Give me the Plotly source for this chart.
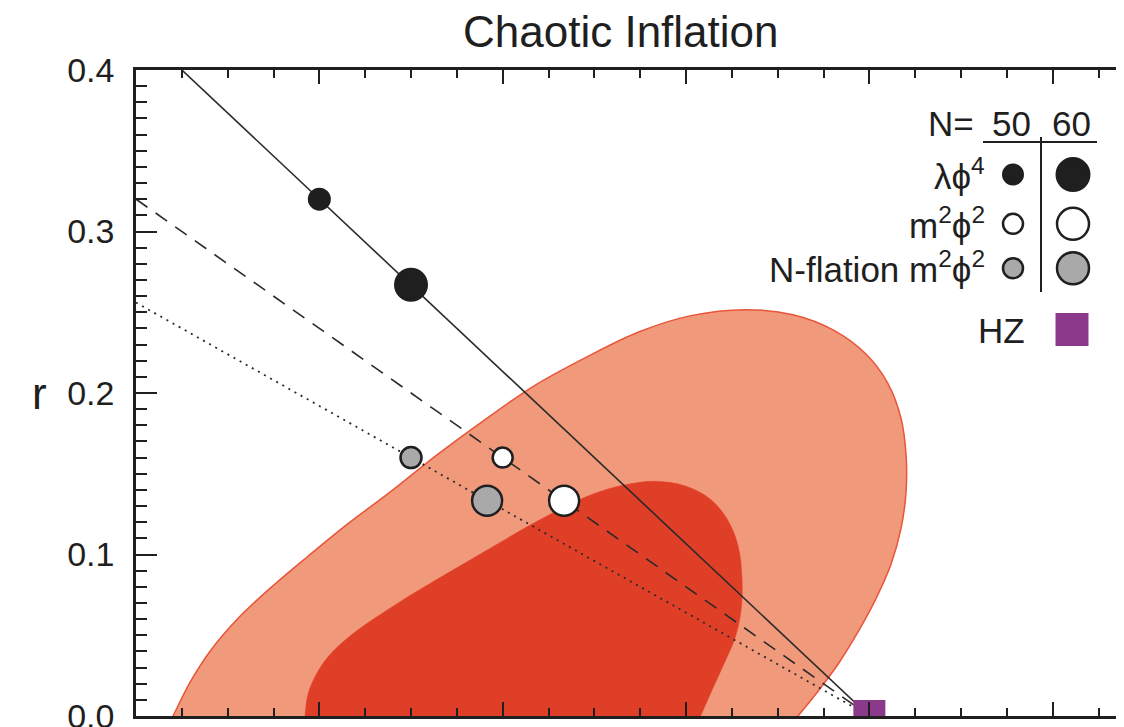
import plotly.graph_objects as go

# ---------------- data ----------------
# WMAP 95% region boundary (n_s, r); the ends run just below r = 0 and are clipped by the axis
outer_ns = [0.92305, 0.92404, 0.92589, 0.92818, 0.93135, 0.93494, 0.93876, 0.94313, 0.94771,
            0.95273, 0.95785, 0.96331, 0.96898, 0.97476, 0.98054, 0.98643, 0.99167, 0.99614,
            0.99963, 1.00203, 1.00345, 1.00400, 1.00400, 1.00345, 1.00236, 1.00072, 0.99887,
            0.99669, 0.99440, 0.99222, 0.99058]
outer_r = [-0.0110, 0.0000, 0.0208, 0.0409, 0.0617, 0.0806, 0.0989, 0.1191, 0.1386,
           0.1612, 0.1826, 0.2040, 0.2217, 0.2376, 0.2479, 0.2516, 0.2485, 0.2388,
           0.2241, 0.2058, 0.1844, 0.1618, 0.1386, 0.1160, 0.0940, 0.0727, 0.0531,
           0.0330, 0.0153, 0.0000, -0.0110]

# WMAP 68% region boundary (n_s, r)
inner_ns = [0.93833, 0.93844, 0.93876, 0.93964, 0.94094, 0.94269, 0.94476, 0.94716, 0.94967,
            0.95240, 0.95513, 0.95916, 0.96309, 0.96658, 0.96985, 0.97313, 0.97662, 0.98000,
            0.98262, 0.98447, 0.98567, 0.98611, 0.98600, 0.98534, 0.98414, 0.98283, 0.98153,
            0.98065]
inner_r = [-0.0110, 0.0000, 0.0134, 0.0256, 0.0366, 0.0464, 0.0556, 0.0647, 0.0739,
           0.0831, 0.0922, 0.1056, 0.1185, 0.1289, 0.1374, 0.1429, 0.1453, 0.1423,
           0.1344, 0.1221, 0.1056, 0.0849, 0.0653, 0.0482, 0.0324, 0.0159, -0.0006,
           -0.0110]

# model lines (n_s, r)
lam_line_ns = [0.92, 1.00]
lam_line_r = [0.4267, 0.0]
m2_line_ns = [0.92, 1.00]
m2_line_r = [0.320, 0.0]
nfl_line_ns = [0.92, 1.00]
nfl_line_r = [0.256, 0.0]

# model predictions for N = 50, 60
N_values = [50, 60]
lam_ns = [0.940, 0.950]
lam_r = [0.320, 0.267]
m2_ns = [0.960, 0.9667]
m2_r = [0.160, 0.1333]
nfl_ns = [0.950, 0.9583]
nfl_r = [0.160, 0.1333]

# Harrison-Zel'dovich point
hz_ns = [1.0]
hz_r = [0.0]

y_ticks = [0.0, 0.1, 0.2, 0.3, 0.4]
y_tick_labels = ["0.0", "0.1", "0.2", "0.3", "0.4"]

# ---------------- style ----------------
FONT = "Liberation Sans, Arial, sans-serif"
INK = "#1f1f1f"
OUTER_FILL = "#F1997B"
OUTER_EDGE = "#E8553A"
INNER_FILL = "#E03F27"
GRAY = "#A9A9A9"
PURPLE = "#8B3A8B"

W, H = 1124, 727
L, R, T, B = 128, 0, 62, 10
px_per_ns = 9167.0
x_max = 0.92 + (W - L - R) / px_per_ns

fig = go.Figure()

fig.add_trace(go.Scatter(x=outer_ns, y=outer_r, mode="lines", fill="toself",
                         fillcolor=OUTER_FILL,
                         line=dict(color=OUTER_EDGE, width=1.5, shape="spline", smoothing=1.0),
                         hoverinfo="skip"))
fig.add_trace(go.Scatter(x=inner_ns, y=inner_r, mode="lines", fill="toself",
                         fillcolor=INNER_FILL,
                         line=dict(color=INNER_FILL, width=0.5, shape="spline", smoothing=1.0),
                         hoverinfo="skip"))

fig.add_trace(go.Scatter(x=lam_line_ns, y=lam_line_r, mode="lines",
                         line=dict(color="#2a2a2a", width=1.6), hoverinfo="skip"))
fig.add_trace(go.Scatter(x=m2_line_ns, y=m2_line_r, mode="lines",
                         line=dict(color="#2a2a2a", width=1.6, dash="14px,10px"), hoverinfo="skip"))
fig.add_trace(go.Scatter(x=nfl_line_ns, y=nfl_line_r, mode="lines",
                         line=dict(color="#2a2a2a", width=1.8, dash="2px,5px"), hoverinfo="skip"))

fig.add_trace(go.Scatter(x=lam_ns, y=lam_r, mode="markers",
                         marker=dict(size=[21, 32], color=INK, opacity=1,
                                     line=dict(color=INK, width=2))))
fig.add_trace(go.Scatter(x=m2_ns, y=m2_r, mode="markers",
                         marker=dict(size=[20, 30], color="white", opacity=1,
                                     line=dict(color=INK, width=2.5))))
fig.add_trace(go.Scatter(x=nfl_ns, y=nfl_r, mode="markers",
                         marker=dict(size=[21, 30], color=GRAY, opacity=1,
                                     line=dict(color=INK, width=2.5))))
fig.add_trace(go.Scatter(x=hz_ns, y=hz_r, mode="markers", cliponaxis=True,
                         marker=dict(symbol="square", size=32, color=PURPLE, opacity=1,
                                     line=dict(width=0))))

# ---------------- legend table (pixel-coordinate overlay axes) ----------------
col_x = [1005, 1065]
row_y = [168, 218, 263]
leg_sizes = [[20, 33], [20, 32], [20, 32]]
leg_fill = [INK, "white", GRAY]
leg_edge = [2, 2.5, 2.5]
for i in range(3):
    fig.add_trace(go.Scatter(x=col_x, y=[row_y[i]] * 2, xaxis="x2", yaxis="y2", mode="markers",
                             marker=dict(size=leg_sizes[i], color=leg_fill[i], opacity=1,
                                         line=dict(color=INK, width=leg_edge[i])),
                             cliponaxis=False, hoverinfo="skip"))
fig.add_trace(go.Scatter(x=[1064], y=[325], xaxis="x2", yaxis="y2", mode="markers",
                         marker=dict(symbol="square", size=33, color=PURPLE, opacity=1),
                         cliponaxis=False, hoverinfo="skip"))

ann = []
lab_font = dict(family=FONT, size=35, color=INK)
ann.append(dict(x=968, y=116, xref="x2", yref="y2", text="N=", showarrow=False,
                xanchor="right", yanchor="middle", font=lab_font))
for cx, n in zip(col_x, N_values):
    ann.append(dict(x=cx - 2, y=116, xref="x2", yref="y2", text=str(n), showarrow=False,
                    xanchor="center", yanchor="middle", font=lab_font))
row_labels = ["λϕ<sup>4</sup>", "m<sup>2</sup>ϕ<sup>2</sup>", "N-flation m<sup>2</sup>ϕ<sup>2</sup>"]
for yy, lab in zip(row_y, row_labels):
    ann.append(dict(x=979, y=yy - 1, xref="x2", yref="y2", text=lab, showarrow=False,
                    xanchor="right", yanchor="middle", font=lab_font))
ann.append(dict(x=1019, y=326, xref="x2", yref="y2", text="HZ", showarrow=False,
                xanchor="right", yanchor="middle", font=lab_font))

# title and y label
ann.append(dict(x=(613 - L) / (W - L - R), y=(H - B - 23) / (H - T - B), xref="paper", yref="paper",
                text="Chaotic Inflation", showarrow=False, xanchor="center", yanchor="middle",
                font=dict(family=FONT, size=44, color=INK)))
ann.append(dict(x=(31 - L) / (W - L - R), y=(H - B - 390) / (H - T - B), xref="paper", yref="paper",
                text="r", showarrow=False, xanchor="center", yanchor="middle",
                font=dict(family=FONT, size=44, color=INK)))

shapes = [
    dict(type="line", xref="x2", yref="y2", x0=975, x1=1089, y0=135, y1=135,
         line=dict(color=INK, width=2)),
    dict(type="line", xref="x2", yref="y2", x0=1033, x1=1033, y0=130, y1=287,
         line=dict(color=INK, width=2)),
]

fig.update_layout(
    width=W, height=H,
    margin=dict(l=L, r=R, t=T, b=B, pad=0),
    paper_bgcolor="white", plot_bgcolor="white",
    showlegend=False,
    annotations=ann, shapes=shapes,
    xaxis=dict(range=[0.92, x_max], tick0=0.92, dtick=0.02, ticks="inside", ticklen=14, tickwidth=2,
               tickcolor=INK, showline=True, linewidth=2.5, linecolor=INK, mirror="ticks",
               showgrid=False, zeroline=False, showticklabels=False,
               minor=dict(tick0=0.92, dtick=0.005, ticks="inside", ticklen=8, tickwidth=2,
                          tickcolor=INK, showgrid=False)),
    yaxis=dict(range=[0, 0.4], tickvals=y_ticks, ticktext=y_tick_labels, ticks="inside", ticklen=21,
               tickwidth=2, tickcolor=INK, showline=True, linewidth=2.5, linecolor=INK, mirror=False,
               showgrid=False, zeroline=False, ticklabelstandoff=12, ticklabeloverflow="allow",
               tickfont=dict(family=FONT, size=34, color=INK),
               minor=dict(dtick=0.01, ticks="inside", ticklen=11, tickwidth=2, tickcolor=INK,
                          showgrid=False)),
    yaxis3=dict(range=[0, 0.4], overlaying="y", side="right", anchor="x", tickvals=y_ticks,
                ticks="inside", ticklen=10, tickwidth=2, tickcolor=INK, showticklabels=False,
                showline=False, showgrid=False, zeroline=False),
    xaxis2=dict(range=[L, W - R], overlaying="x", visible=False, anchor="y2"),
    yaxis2=dict(range=[H - B, T], overlaying="y", visible=False, anchor="x2"),
)
fig.add_trace(go.Scatter(x=hz_ns, y=hz_r, yaxis="y3", mode="markers", marker=dict(opacity=0),
                         hoverinfo="skip"))

fig.write_html("out.html")
